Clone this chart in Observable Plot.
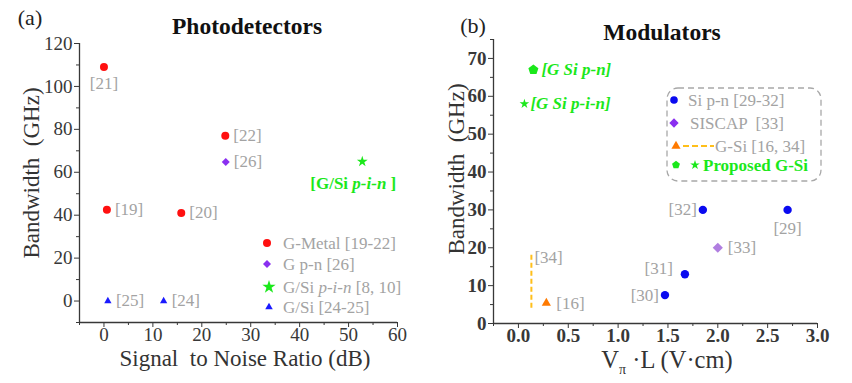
<!DOCTYPE html>
<html><head><meta charset="utf-8">
<script src="https://cdn.jsdelivr.net/npm/d3@7"></script>
<script src="https://cdn.jsdelivr.net/npm/@observablehq/plot@0.6"></script>
<style>
body{margin:0;background:#fff;}
#wrap{position:relative;width:852px;height:383px;font-family:"Liberation Serif","Times New Roman",Times,serif;color:#333;overflow:hidden;}
#wrap svg{position:absolute;top:0;}
.abs{position:absolute;white-space:nowrap;line-height:0.9;transform:translate(-50%,-50%);}
.rot{transform:translate(-50%,-50%) rotate(-90deg);}
.ttl{font-weight:bold;color:#111;font-size:23.5px;}
.lab{font-size:23px;color:#333;}
</style></head><body><div id="wrap">
<div class="abs lab" style="left:30px;top:18px;color:#222;font-size:22px">(a)</div>
<div class="abs ttl" style="left:247px;top:27px">Photodetectors</div>
<div class="abs lab" style="left:245px;top:359px">Signal&nbsp; to Noise Ratio (dB)</div>
<div class="abs lab rot" style="left:32px;top:173px">Bandwidth&nbsp; (GHz)</div>
<div class="abs lab" style="left:473px;top:26px;color:#222;font-size:22px">(b)</div>
<div class="abs ttl" style="left:662px;top:33px">Modulators</div>
<div class="abs lab" style="left:667px;top:363px;font-size:24.5px">V<sub style="font-size:14px">π</sub> ·L (V·cm)</div>
<div class="abs lab rot" style="left:457px;top:169px">Bandwidth&nbsp; (GHz)</div>
</div>
<script>
// ---------- Panel (a): Photodetectors ----------
const gMetalSNR = [0, 0.6, 15.8, 24.8];
const gMetalBW  = [109, 42.5, 41, 77];
const gMetalRef = ["[21]", "[19]", "[20]", "[22]"];
const gpnSNR = [24.9];
const gpnBW  = [64.8];
const gpnRef = ["[26]"];
const gsiPinSNR = [52.8];
const gsiPinBW  = [65];
const gsiPinRef = ["[G/Si p-i-n ]"];
const gsiSNR = [0.8, 12.2];
const gsiBW  = [0, 0];
const gsiRef = ["[25]", "[24]"];
const aXTicks = [0, 10, 20, 30, 40, 50, 60];
const aXMinor = [-5, 5, 15, 25, 35, 45, 55];
const aYTicks = [0, 20, 40, 60, 80, 100, 120];
const aYMinor = [-10, 10, 30, 50, 70, 90, 110];
const aLegend = ["G-Metal [19-22]", "G p-n [26]", "G/Si p-i-n [8, 10]", "G/Si [24-25]"];

// ---------- Panel (b): Modulators ----------
const sipnVL  = [2.7, 1.85, 1.67, 1.47];
const sipnBW  = [30, 30, 13, 7.5];
const sipnRef = ["[29]", "[32]", "[31]", "[30]"];
const siscapVL  = [2.0];
const siscapBW  = [20];
const siscapRef = ["[33]"];
const gsiModVL  = [0.28];
const gsiModBW  = [5.4];
const gsiModRef = ["[16]"];
const gsi34VL   = [0.13];
const gsi34Low  = [4];
const gsi34High = [18];
const gsi34Ref  = ["[34]"];
const propVL  = [0.15, 0.06];
const propBW  = [67, 58];
const propRef = ["[G Si p-n]", "[G Si p-i-n]"];
const bXTicks = [0, 0.5, 1, 1.5, 2, 2.5, 3];
const bXMinor = [-0.25, 0.25, 0.75, 1.25, 1.75, 2.25, 2.75];
const bYTicks = [0, 10, 20, 30, 40, 50, 60, 70];
const bYMinor = [5, 15, 25, 35, 45, 55, 65, 75];
const bLegend = ["Si p-n [29-32]", "SISCAP  [33]", "G-Si [16, 34]", "Proposed G-Si"];

// label placement (layout, kept apart from the data)
const side = {
  "[21]": "below", "[19]": "right", "[20]": "right", "[22]": "right", "[26]": "right",
  "[25]": "right", "[24]": "right",
  "[29]": "below", "[32]": "left", "[31]": "upleft", "[30]": "left",
  "[33]": "right", "[16]": "right"
};

const serif = '"Liberation Serif","Times New Roman",Times,serif';
const RED = "#ff1010", PURPLE = "#8a2ff0", GREEN = "#1be81b", BLUE = "#1a1aff";
const BLUE2 = "#0a0af0", LPURPLE = "#b07ee0", ORANGE = "#ff7a00", YELLOW = "#ffbf1a", GRAY = "#a3a3a3";

const rows = (xs, ys, refs) => xs.map((x, i) => ({x, y: ys[i], ref: refs[i]}));
const pentagon = {
  draw(ctx, size) {
    const R = Math.sqrt(size / 2.3776);
    for (let i = 0; i < 5; i++) {
      const a = -Math.PI / 2 + i * 2 * Math.PI / 5;
      const px = R * Math.cos(a), py = R * Math.sin(a);
      if (i === 0) ctx.moveTo(px, py); else ctx.lineTo(px, py);
    }
    ctx.closePath();
  }
};

const blank = () => "";
function axes(xT, xM, yT, yM, fmtX, weight) {
  const t = {fontSize: 19, fontWeight: weight, label: null};
  return [
    Plot.axisX(xT, {...t, tickSize: 5, tickPadding: 0, tickFormat: fmtX}),
    Plot.axisX(xM, {tickSize: 3, tickFormat: blank, label: null}),
    Plot.axisY(yT, {...t, tickSize: 5, tickPadding: 2}),
    Plot.axisY(yM, {tickSize: 3, tickFormat: blank, label: null})
  ];
}
const lbl = (data, o) => Plot.text(data, {x: "x", y: "y", text: "ref", fontSize: 17, fill: GRAY, ...o});

// ---------- build (a) ----------
const aMetal = rows(gMetalSNR, gMetalBW, gMetalRef);
const aPn = rows(gpnSNR, gpnBW, gpnRef);
const aPin = rows(gsiPinSNR, gsiPinBW, gsiPinRef);
const aSi = rows(gsiSNR, gsiBW, gsiRef);
const aAll = [...aMetal, ...aPn, ...aSi];

const pa = Plot.plot({
  width: 430, height: 383, marginLeft: 79, marginRight: 33, marginTop: 43, marginBottom: 61,
  style: {fontFamily: serif, background: "transparent", color: "#383838", overflow: "visible"},
  x: {domain: [-5, 60], label: null}, y: {domain: [-10, 120], label: null},
  marks: [
    Plot.ruleX([-5], {strokeWidth: 1.3}),
    Plot.ruleY([-10], {strokeWidth: 1.3}),
    ...axes(aXTicks, aXMinor, aYTicks, aYMinor, undefined, "normal"),
    Plot.dot(aMetal, {x: "x", y: "y", r: 4, fill: RED, stroke: "none"}),
    Plot.dot(aPn, {x: "x", y: "y", r: 3.6, symbol: "diamond2", fill: PURPLE, stroke: "none"}),
    Plot.dot(aPin, {x: "x", y: "y", r: 3.4, symbol: "star", fill: GREEN, stroke: "none"}),
    Plot.dot(aSi, {x: "x", y: "y", r: 2.7, symbol: "triangle", fill: BLUE, stroke: "none"}),
    lbl(aAll.filter(d => side[d.ref] === "right"), {textAnchor: "start", dx: 8}),
    lbl(aAll.filter(d => side[d.ref] === "below"), {textAnchor: "middle", dy: 16}),
    lbl(aPin, {textAnchor: "middle", dx: -9, dy: 22, fill: GREEN, fontWeight: "bold"})
  ]
});
pa.style.left = "0px";
document.getElementById("wrap").appendChild(pa);

// ---------- build (b) ----------
const bSi = rows(sipnVL, sipnBW, sipnRef);
const bSc = rows(siscapVL, siscapBW, siscapRef);
const bG = rows(gsiModVL, gsiModBW, gsiModRef);
const b34 = gsi34VL.map((x, i) => ({x, y1: gsi34Low[i], y2: gsi34High[i], y: gsi34High[i], ref: gsi34Ref[i]}));
const bProp = rows(propVL, propBW, propRef);
const bAll = [...bSi, ...bSc, ...bG];

const pb = Plot.plot({
  width: 422, height: 383, marginLeft: 63, marginRight: 35, marginTop: 39, marginBottom: 60,
  style: {fontFamily: serif, background: "transparent", color: "#383838", overflow: "visible"},
  x: {domain: [-0.25, 3], label: null}, y: {domain: [0, 75], label: null},
  marks: [
    Plot.ruleX([-0.25], {strokeWidth: 1.3}),
    Plot.ruleY([0], {strokeWidth: 1.3}),
    ...axes(bXTicks, bXMinor, bYTicks, bYMinor, d3.format(".1f"), "bold"),
    Plot.ruleX(b34, {x: "x", y1: "y1", y2: "y2", stroke: YELLOW, strokeWidth: 2, strokeDasharray: "5,3"}),
    Plot.dot(bSi, {x: "x", y: "y", r: 4.2, fill: BLUE2, stroke: "none"}),
    Plot.dot(bSc, {x: "x", y: "y", r: 4.6, symbol: "diamond2", fill: LPURPLE, stroke: "none"}),
    Plot.dot(bG, {x: "x", y: "y", r: 3.4, symbol: "triangle", fill: ORANGE, stroke: "none"}),
    Plot.dot(bProp.slice(0, 1), {x: "x", y: "y", r: 4.6, symbol: pentagon, fill: GREEN, stroke: "none"}),
    Plot.dot(bProp.slice(1), {x: "x", y: "y", r: 3.0, symbol: "star", fill: GREEN, stroke: "none"}),
    lbl(bAll.filter(d => side[d.ref] === "right"), {textAnchor: "start", dx: 10}),
    lbl(bAll.filter(d => side[d.ref] === "left"), {textAnchor: "end", dx: -6}),
    lbl(bAll.filter(d => side[d.ref] === "upleft"), {textAnchor: "end", dx: -12, dy: -6}),
    lbl(bAll.filter(d => side[d.ref] === "below"), {textAnchor: "middle", dy: 19}),
    lbl(b34, {textAnchor: "start", dx: 3, dy: 2}),
    lbl(bProp.slice(0, 1), {textAnchor: "start", dx: 8, fill: GREEN, fontWeight: "bold", fontStyle: "italic"}),
    lbl(bProp.slice(1), {textAnchor: "start", dx: 6, fill: GREEN, fontWeight: "bold", fontStyle: "italic"})
  ]
});
pb.style.left = "430px";
document.getElementById("wrap").appendChild(pb);

// italic "p-i-n" inside the bold green label of (a)
d3.select(pa).selectAll("text").each(function() {
  if (this.textContent === gsiPinRef[0]) {
    const parts = this.textContent.split("p-i-n");
    this.textContent = "";
    const s = d3.select(this);
    s.append("tspan").text(parts[0]);
    s.append("tspan").attr("font-style", "italic").text("p-i-n");
    s.append("tspan").text(parts[1]);
  }
});

// ---------- legends ----------
const sym = (type, r) => d3.symbol(type, Math.PI * r * r)();
function addItem(g, x, y, path, fill) {
  g.append("path").attr("d", path).attr("fill", fill).attr("stroke", "none").attr("transform", `translate(${x},${y})`);
}
const la = d3.select(pa).append("g").attr("font-family", serif).attr("font-size", 17)
  .attr("fill", GRAY).attr("text-anchor", "start");
const aRowsY = [243, 264, 287, 307];
addItem(la, 267, aRowsY[0], sym(d3.symbolCircle, 4), RED);
addItem(la, 267, aRowsY[1], sym(d3.symbolDiamond2, 3.6), PURPLE);
addItem(la, 269, aRowsY[2], sym(d3.symbolStar, 4.2), GREEN);
addItem(la, 269, aRowsY[3], sym(d3.symbolTriangle, 2.8), BLUE);
aLegend.forEach((t, i) => {
  const tx = la.append("text").attr("x", 283).attr("y", aRowsY[i]).attr("dy", "0.35em");
  if (t.includes("p-i-n")) {
    const p = t.split("p-i-n");
    tx.append("tspan").text(p[0]);
    tx.append("tspan").attr("font-style", "italic").text("p-i-n");
    tx.append("tspan").text(p[1]);
  } else tx.text(t);
});

const lb = d3.select(pb).append("g").attr("font-family", serif).attr("font-size", 17)
  .attr("fill", GRAY).attr("text-anchor", "start");
lb.append("rect").attr("x", 237).attr("y", 88).attr("width", 154).attr("height", 93)
  .attr("rx", 11).attr("fill", "none").attr("stroke", "#a8a8a8").attr("stroke-width", 1.3).attr("stroke-dasharray", "6,4");
const bRowsY = [100, 123, 146, 165];
addItem(lb, 244, bRowsY[0], sym(d3.symbolCircle, 3.8), BLUE2);
addItem(lb, 244, bRowsY[1], sym(d3.symbolDiamond2, 4.2), "#8a2ff0");
addItem(lb, 246, bRowsY[2], sym(d3.symbolTriangle, 3.4), ORANGE);
lb.append("line").attr("x1", 253).attr("x2", 284).attr("y1", bRowsY[2]).attr("y2", bRowsY[2])
  .attr("stroke", YELLOW).attr("stroke-width", 2).attr("stroke-dasharray", "6,3");
addItem(lb, 246, bRowsY[3], sym(pentagon, 3.6), GREEN);
addItem(lb, 265, bRowsY[3], sym(d3.symbolStar, 3.0), GREEN);
const bTextX = [258, 260, 285, 273];
bLegend.forEach((t, i) => {
  const tx = lb.append("text").attr("x", bTextX[i]).attr("y", bRowsY[i]).attr("dy", "0.35em")
    .style("white-space", "pre").text(t);
  if (i === 3) tx.attr("fill", GREEN).attr("font-weight", "bold");
});
</script>
</body></html>
